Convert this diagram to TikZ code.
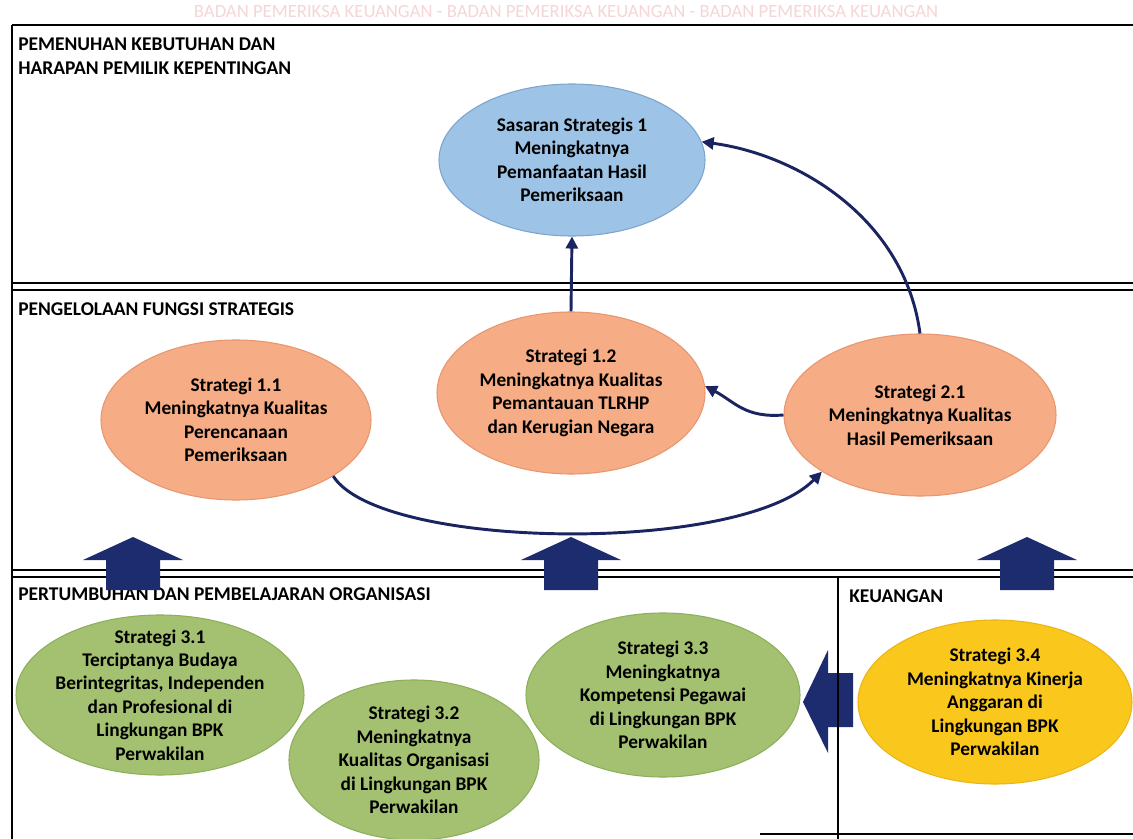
\documentclass[tikz,border=0pt]{standalone}
\usepackage{fontspec}
\setmainfont{Carlito}
\usetikzlibrary{arrows.meta,shapes.geometric}
\definecolor{navy}{RGB}{26,36,96}
\definecolor{blkblue}{RGB}{28,44,110}
\definecolor{skyfill}{RGB}{157,195,230}
\definecolor{skyline}{RGB}{125,165,205}
\definecolor{orfill}{RGB}{246,172,132}
\definecolor{orline}{RGB}{232,150,112}
\definecolor{grfill}{RGB}{163,193,112}
\definecolor{grline}{RGB}{140,175,92}
\definecolor{yefill}{RGB}{250,200,28}
\definecolor{yeline}{RGB}{235,180,20}
\definecolor{wmark}{RGB}{246,214,214}
\tikzset{
  panel/.style={line width=1.2pt, black},
  thinpanel/.style={line width=0.8pt, black},
  lbl/.style={anchor=base west, inner sep=0pt, font=\bfseries\fontsize{14.6}{17}\selectfont},
  oval/.style={ellipse, inner sep=0pt, line width=0.8pt},
  ovtxt/.style={align=center, inner sep=0pt, font=\bfseries\fontsize{14.5}{17.6}\selectfont},
  conn/.style={navy, line width=2.2pt, -{Triangle[length=9pt,width=9pt]}},
  blk/.style={fill=blkblue, draw=none},
  wm/.style={text=wmark, inner sep=0pt, font=\fontsize{14}{14}\selectfont}
}
\newcommand\uparrowblk[1]{%
  \fill[blk] (#1,537) -- (#1+50,560) -- (#1+27,560) -- (#1+27,590) -- (#1-27,590) -- (#1-27,560) -- (#1-50,560) -- cycle;}
\begin{document}
\begin{tikzpicture}[x={(0.75pt,0)}, y={(0,-0.75pt)}]
\useasboundingbox (0,0) rectangle (1133,839);
\fill[white] (0,0) rectangle (1133,839);

% watermark
\node[wm] (wm1) at (566,12) {BADAN PEMERIKSA KEUANGAN - BADAN PEMERIKSA KEUANGAN - BADAN PEMERIKSA KEUANGAN};

% panels
\draw[panel, line width=1.6pt] (12,25) -- (1133,25);
\draw[panel] (12,25) -- (12,839);
\draw[panel, line width=1.6pt] (12,283) -- (1133,283);
\draw[thinpanel] (12,290) -- (1133,290);
\draw[panel, line width=1.6pt] (12,570) -- (1133,570);
\draw[thinpanel] (12,577) -- (1133,577);
\draw[panel] (760,834) -- (1133,834);

% labels
\node[lbl] (l1a) at (18,50) {PEMENUHAN KEBUTUHAN DAN};
\node[lbl] (l1b) at (18,74) {HARAPAN PEMILIK KEPENTINGAN};
\node[lbl] (l2) at (18,315) {PENGELOLAAN FUNGSI STRATEGIS};
\node[lbl] (l3) at (18,600) {PERTUMBUHAN DAN PEMBELAJARAN ORGANISASI};
\node[lbl] (l4) at (849,602) {KEUANGAN};

% block arrows
\uparrowblk{133}
\uparrowblk{571}
\uparrowblk{1027}
\fill[blk] (803,702) -- (828,650) -- (828,673) -- (853,673) -- (853,727) -- (828,727) -- (828,753) -- cycle;
\draw[panel] (838,577) -- (838,839);

% ellipses
\node[oval, fill=skyfill, draw=skyline, minimum width=199.5pt, minimum height=114pt] (ss1) at (572,160) {};
\node[ovtxt] (ss1t) at (ss1) {Sasaran Strategis 1\\Meningkatnya\\Pemanfaatan Hasil\\Pemeriksaan};

\node[oval, fill=orfill, draw=orline, minimum width=202.5pt, minimum height=120pt] (s11) at (236,420) {};
\node[ovtxt] (s11t) at (s11) {Strategi 1.1\\Meningkatnya Kualitas\\Perencanaan\\Pemeriksaan};

\node[oval, fill=orfill, draw=orline, minimum width=201pt, minimum height=121.5pt] (s12) at (571,393) {};
\node[ovtxt] (s12t) at (s12) {Strategi 1.2\\Meningkatnya Kualitas\\Pemantauan TLRHP\\dan Kerugian Negara};

\node[oval, fill=orfill, draw=orline, minimum width=204pt, minimum height=121.5pt] (s21) at (920,415) {};
\node[ovtxt] (s21t) at (s21) {Strategi 2.1\\Meningkatnya Kualitas\\Hasil Pemeriksaan};

\node[oval, fill=grfill, draw=grline, minimum width=216pt, minimum height=120pt] (s31) at (160,695) {};
\node[ovtxt] (s31t) at (s31) {Strategi 3.1\\Terciptanya Budaya\\Berintegritas, Independen\\dan Profesional di\\Lingkungan BPK\\Perwakilan};

\node[oval, fill=grfill, draw=grline, minimum width=187.5pt, minimum height=120pt] (s32) at (414,760) {};
\node[ovtxt] (s32t) at (s32) {Strategi 3.2\\Meningkatnya\\Kualitas Organisasi\\di Lingkungan BPK\\Perwakilan};

\node[oval, fill=grfill, draw=grline, minimum width=205.5pt, minimum height=123pt] (s33) at (663,695) {};
\node[ovtxt] (s33t) at (s33) {Strategi 3.3\\Meningkatnya\\Kompetensi Pegawai\\di Lingkungan BPK\\Perwakilan};

\node[oval, fill=yefill, draw=yeline, minimum width=205.5pt, minimum height=123pt] (s34) at (995,702) {};
\node[ovtxt] (s34t) at (s34) {Strategi 3.4\\Meningkatnya Kinerja\\Anggaran di\\Lingkungan BPK\\Perwakilan};

% connectors
\draw[conn] (s12.north) -- (ss1.south);
\draw[conn] (s21.north) .. controls (905,220) and (800,155) .. (ss1.8);
\draw[conn] (s21.west) .. controls (745,418) and (735,402) .. (s12.3);
\draw[conn] (s11.-30) .. controls (380,550) and (740,555) .. (s21.210);
\end{tikzpicture}
\end{document}
